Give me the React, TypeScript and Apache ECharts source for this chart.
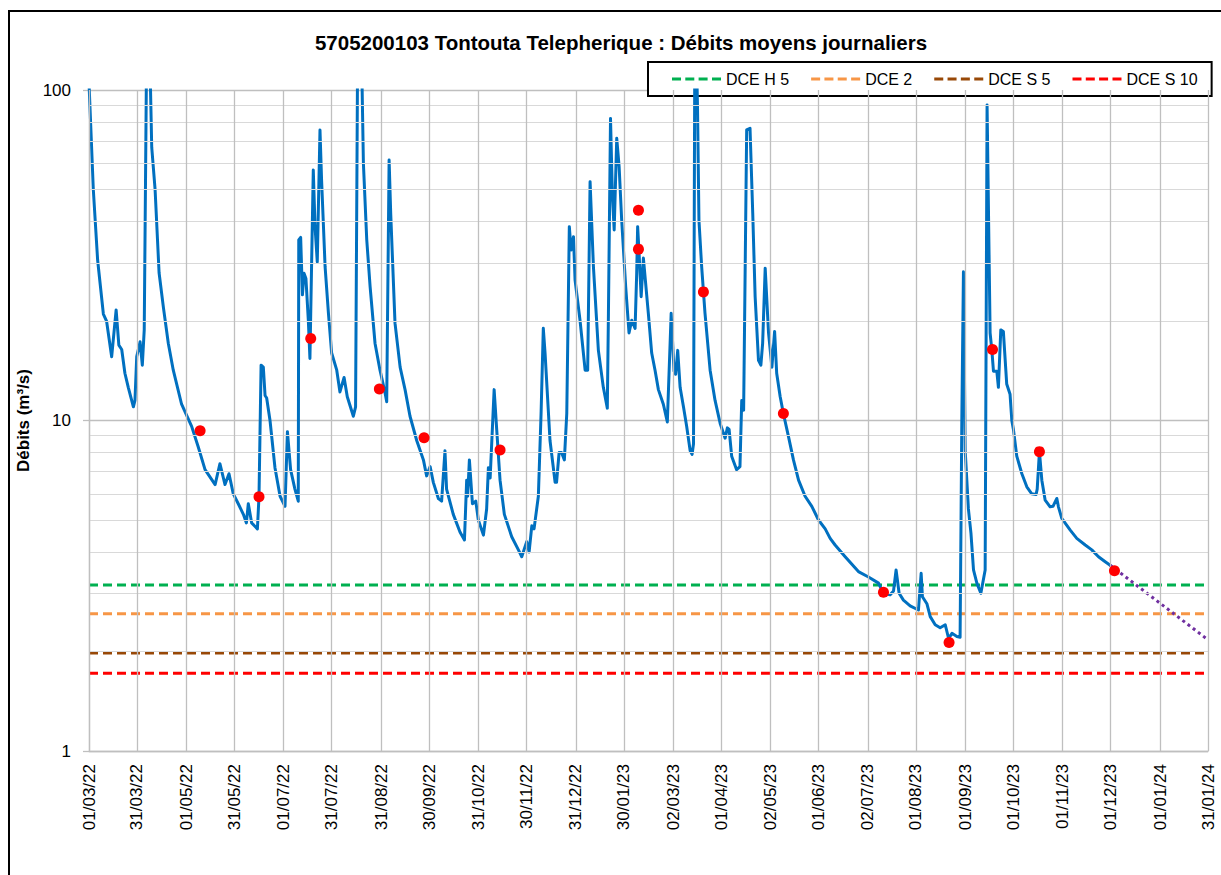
import React, { useEffect, useRef } from "react";
import * as echarts from "echarts";

// ---------- DATA ----------
const titleText = "5705200103 Tontouta Telepherique : Débits moyens journaliers";
const yAxisName = "Débits (m³/s)";

const xTickLabels = [
  "01/03/22", "31/03/22", "01/05/22", "31/05/22", "01/07/22", "31/07/22",
  "31/08/22", "30/09/22", "31/10/22", "30/11/22", "31/12/22", "30/01/23",
  "02/03/23", "01/04/23", "02/05/23", "01/06/23", "02/07/23", "01/08/23",
  "01/09/23", "01/10/23", "01/11/23", "01/12/23", "01/01/24", "31/01/24",
];

// daily mean flow, [days since 01/03/22, m3/s]
const flowSeries: [number, number][] = [
  [0, 105], [2.7, 50], [5.4, 30.6], [9, 21], [11, 20], [14.2, 15.6], [17, 21.6], [18.7, 16.9],
  [20.5, 16.4], [22.5, 13.9], [24.6, 12.6], [27.8, 11.0], [28.8, 11.5], [29.9, 15.6], [32, 17.3],
  [33.4, 14.7], [34.6, 18.8], [36.2, 150], [38.2, 120], [39.3, 67], [41.4, 50], [43.9, 28],
  [46.6, 22], [49.7, 17.1], [52.8, 14.2], [58, 11.2], [64.3, 9.6], [68.5, 8.3], [72.7, 7.1],
  [79, 6.4], [82, 7.4], [85.2, 6.4], [87.7, 6.9], [90.4, 6.0], [93.5, 5.6], [96.7, 5.2],
  [98.6, 4.9], [99.8, 5.6], [101.9, 4.9], [105.5, 4.7], [106.5, 5.9], [107.8, 14.7], [109.2, 14.5],
  [110.3, 11.9], [111.3, 11.7], [113.4, 10.0], [116.5, 7.2], [119.7, 5.9], [122.8, 5.5],
  [124.3, 9.25], [126.3, 7.1], [129, 6.2], [131.1, 5.7], [131.4, 35.2], [132.6, 35.8], [133.7, 24],
  [134.7, 27.9], [135.9, 26.9], [137.4, 20.1], [138.4, 15.4], [140.5, 57.3], [141.6, 38.6],
  [143, 30.2], [144.7, 75.7], [145.7, 53.4], [147.9, 29.2], [150, 21.1], [152, 16], [155.2, 14.2],
  [157.2, 12.2], [159.8, 13.5], [161.8, 11.8], [165.6, 10.3], [167, 11], [168.5, 200], [170.5, 150],
  [171.9, 60], [174, 35.2], [176.1, 25.4], [179.2, 17.1], [182.3, 14.2], [185.5, 12.1], [186.5, 11.4],
  [188, 61.4], [189, 42.4], [191.7, 19.7], [194.9, 14.5], [198, 12.4], [201.1, 10.3], [205.3, 8.7],
  [209.5, 7.6], [211.5, 6.8], [213.7, 7.25], [215.7, 6.5], [218.9, 5.8], [220.9, 5.7], [223, 8.1],
  [224, 6.2], [228.2, 5.2], [232.4, 4.6], [235.2, 4.35], [236.6, 6.6], [237.2, 5.9], [238.3, 7.6],
  [240.2, 5.6], [242.3, 5.7], [243.9, 5.0], [247.1, 4.5], [249.1, 5.4], [250.2, 7.2], [251.3, 6.7],
  [253.8, 12.4], [255.4, 9.4], [257.5, 6.6], [260.2, 5.2], [264.8, 4.45], [269, 4.06], [271.1, 3.87],
  [274.2, 4.3], [275.7, 4.0], [277.4, 4.8], [278.8, 4.7], [281.5, 5.9], [283.2, 10.5], [284.6, 19],
  [285.7, 16], [288.8, 8.7], [292, 6.5], [292.9, 6.5], [294.5, 8.0], [296, 8.0], [297.8, 7.6],
  [299.3, 10.5], [300.9, 38.6], [302, 32.8], [303.5, 36], [304.5, 26.6], [307.6, 20.1], [310.8, 14.2],
  [312.4, 14.2], [313.9, 52.8], [316, 29.2], [319.1, 16.3], [322.2, 12.6], [324.7, 10.9], [325.4, 21.1],
  [326.7, 82], [327.9, 47.6], [329, 37.7], [330.6, 71.4], [332.1, 58.6], [333.7, 40.4], [336.2, 25.4],
  [338.3, 18.4], [340, 20.1], [342.1, 19], [343.1, 27.9], [343.7, 38.6], [344.6, 32.1], [345.9, 23.7],
  [347.3, 31], [350.4, 21.1], [352.5, 16], [354.6, 14.2], [356.7, 12.4], [359.8, 11.2], [362.3, 9.9],
  [364.7, 21.1], [366.5, 14.1], [367.5, 13.8], [368.8, 16.3], [370.3, 12.6], [372.4, 11], [374.4, 9.6],
  [376.6, 8.1], [377.8, 7.9], [378.7, 8.5], [379.5, 130], [380.5, 130], [381.2, 89], [382.1, 40.4],
  [383.8, 29.2], [385.9, 21.1], [389.1, 14.2], [392.2, 11.5], [395.4, 9.8], [398.5, 8.84], [399.9, 9.5],
  [401, 9.4], [402.6, 7.8], [405.7, 7.1], [407.8, 7.25], [408.9, 11.5], [410.1, 10.75], [412, 75.7],
  [414.1, 76.6], [415.8, 42.4], [417.3, 23.7], [419.4, 15.2], [420.9, 14.7], [422, 17.1], [423.6, 28.9],
  [425.7, 18.4], [427.8, 14.5], [429.5, 18.6], [430.8, 13.9], [433, 11.8], [435, 10.5], [438.2, 8.94],
  [441.3, 7.6], [444.5, 6.6], [448.6, 5.9], [452.8, 5.5], [457, 5.0], [461.2, 4.7], [464.3, 4.4],
  [467.4, 4.2], [473.7, 3.87], [482, 3.49], [488.3, 3.36], [494.6, 3.22], [497.7, 3.0], [501.9, 2.97],
  [504, 3.05], [505.6, 3.53], [507.5, 3.0], [510.2, 2.86], [514.4, 2.75], [519.6, 2.67], [521.3, 3.45],
  [522.1, 2.93], [524.9, 2.79], [527, 2.55], [530.1, 2.41], [533.2, 2.36], [536.4, 2.41], [538.5, 2.19],
  [540.6, 2.27], [543.7, 2.22], [545.7, 2.21], [546.8, 10.3], [547.8, 28.2], [548.9, 8.1], [550.9, 5.4],
  [552.5, 4.56], [554.1, 3.53], [556.2, 3.22], [558.7, 3.0], [561.4, 3.53], [562.6, 90], [564.5, 18.4],
  [565.6, 16.3], [566.6, 14.1], [568.7, 14.1], [569.7, 12.6], [571.2, 18.8], [572.8, 18.6], [574.9, 12.9],
  [577, 12], [578.1, 10], [579.1, 9.4], [581.2, 7.8], [584.4, 6.9], [587.5, 6.3], [590.6, 6.0],
  [593.3, 5.97], [594, 6.2], [595.4, 8.05], [596.9, 6.6], [599, 5.74], [602.1, 5.48], [603.9, 5.5],
  [606.3, 5.81], [607.3, 5.48], [609.4, 5.06], [614.7, 4.66], [618.8, 4.4], [624.1, 4.2], [628.2, 4.06],
  [632.4, 3.87], [636.6, 3.74], [639.7, 3.65], [641.5, 3.55],
];

// forecast (dotted) recession
const forecastDays = [639.7, 701];
const forecastValues = [3.65, 2.17];

// measurement points (red dots)
const dotDays = [69.6, 106.5, 138.9, 181.9, 209.9, 257.5, 344.2, 344.2, 384.9, 435, 497.7, 538.8, 566, 595.4, 642.4];
const dotValues = [9.31, 5.88, 17.7, 12.45, 8.87, 8.14, 43.3, 33.0, 24.5, 10.5, 3.02, 2.13, 16.4, 8.05, 3.51];

// thresholds
const thresholdNames = ["DCE H 5", "DCE 2", "DCE S 5", "DCE S 10"];
const thresholdValues = [3.18, 2.6, 1.98, 1.72];
const thresholdColors = ["#00B050", "#F79646", "#984807", "#FF0000"];

// ---------- helpers ----------
const START = Date.UTC(2022, 2, 1);
const dayOf = (s: string) => {
  const [d, m, y] = s.split("/").map(Number);
  return Math.round((Date.UTC(2000 + y, m - 1, d) - START) / 86400000);
};
const xTickDays = xTickLabels.map(dayOf);
const X_MAX = xTickDays[xTickDays.length - 1];
const minorY = [2, 3, 4, 5, 6, 7, 8, 9].flatMap((v) => [v, v * 10]);

const FONT = '"Liberation Sans", Arial, sans-serif';
const DASH_ICON =
  "path://M0,0h9v3H0z M13.3,0h9v3h-9z M26.6,0h9v3h-9z M40,0h9v3h-9z";

export default function App() {
  const ref = useRef<HTMLDivElement>(null);
  useEffect(() => {
    if (!ref.current) return;
    const chart = echarts.init(ref.current, undefined, { renderer: "svg" });
    const labelOf = (v: number) => {
      const i = xTickDays.findIndex((d) => Math.abs(d - v) < 0.01);
      return i >= 0 ? xTickLabels[i] : "";
    };
    const gridMarkData: any[] = [
      ...minorY.map((v) => ({ yAxis: v, lineStyle: { color: "#D9D9D9", width: 1, type: "solid" } })),
      ...xTickDays.map((d) => ({ xAxis: d, lineStyle: { color: "#BFBFBF", width: 1.3, type: "solid" } })),
    ];
    const option: any = {
      animation: false,
      backgroundColor: "#ffffff",
      textStyle: { fontFamily: FONT },
      graphic: [
        {
          type: "rect",
          shape: { x: 9, y: 11, width: 1260, height: 920 },
          style: { fill: "none", stroke: "#000", lineWidth: 2 },
          silent: true,
          z: 100,
        },
        {
          type: "text",
          x: 621,
          y: 42,
          style: {
            text: titleText,
            font: `bold 20.5px ${FONT}`,
            fill: "#000",
            textAlign: "center",
            textVerticalAlign: "middle",
          },
        },
      ],
      legend: {
        data: thresholdNames,
        left: 648,
        top: 62,
        width: 560,
        orient: "horizontal",
        backgroundColor: "#fff",
        borderColor: "#000",
        borderWidth: 2,
        borderRadius: 0,
        padding: [9, 14, 9, 24],
        itemGap: 22,
        itemWidth: 49,
        itemHeight: 3,
        icon: DASH_ICON,
        textStyle: { fontSize: 16, color: "#000", fontFamily: FONT },
        selectedMode: false,
      },
      grid: { left: 89, right: 13, top: 90, bottom: 124, containLabel: false },
      xAxis: {
        type: "value",
        min: 0,
        max: X_MAX,
        axisLine: { show: true, onZero: false, lineStyle: { color: "#BFBFBF", width: 1.3 } },
        axisTick: { show: false, customValues: xTickDays },
        splitLine: { show: false },
        axisLabel: {
          customValues: xTickDays,
          rotate: 90,
          margin: 13,
          fontSize: 17,
          color: "#000",
          fontFamily: FONT,
          formatter: (v: number) => labelOf(v),
        },
      },
      yAxis: {
        type: "log",
        logBase: 10,
        min: 1,
        max: 100,
        name: yAxisName,
        nameLocation: "middle",
        nameRotate: 90,
        nameGap: 47,
        nameTextStyle: { fontSize: 17, fontWeight: "bold", color: "#000", fontFamily: FONT },
        axisLine: { show: true, lineStyle: { color: "#BFBFBF", width: 1.3 } },
        axisTick: { show: true, length: 6, lineStyle: { color: "#BFBFBF", width: 1.3 } },
        splitLine: { show: true, lineStyle: { color: "#BFBFBF", width: 1.3 } },
        minorTick: { show: false },
        axisLabel: { fontSize: 17, color: "#000", margin: 18, fontFamily: FONT },
      },
      series: [
        {
          name: "grid",
          type: "line",
          data: [[0, 1]],
          symbol: "none",
          lineStyle: { opacity: 0 },
          silent: true,
          z: 1,
          markLine: {
            silent: true,
            symbol: ["none", "none"],
            label: { show: false },
            animation: false,
            data: gridMarkData,
          },
        },
        ...thresholdNames.map((n, i) => ({
          name: n,
          type: "line",
          data: [
            [0, thresholdValues[i]],
            [X_MAX, thresholdValues[i]],
          ],
          symbol: "none",
          z: 3,
          itemStyle: { color: thresholdColors[i] },
          lineStyle: { color: thresholdColors[i], width: 3, type: [9, 5] },
        })),
        {
          name: "Débits",
          type: "line",
          data: flowSeries,
          symbol: "none",
          z: 4,
          lineStyle: { color: "#0070C0", width: 3, join: "round" },
          itemStyle: { color: "#0070C0" },
        },
        {
          name: "Prévision",
          type: "line",
          data: forecastDays.map((d, i) => [d, forecastValues[i]]),
          symbol: "none",
          z: 4,
          lineStyle: { color: "#7030A0", width: 3, type: [3, 3.5] },
          itemStyle: { color: "#7030A0" },
        },
        {
          name: "Mesures",
          type: "scatter",
          data: dotDays.map((d, i) => [d, dotValues[i]]),
          symbol: "circle",
          symbolSize: 11,
          z: 5,
          itemStyle: { color: "#FF0000", opacity: 1 },
        },
      ],
    };
    chart.setOption(option);
    return () => chart.dispose();
  }, []);
  return (
    <div
      ref={ref}
      style={{ position: "fixed", left: 0, top: 0, width: 1221, height: 875, background: "#fff" }}
    />
  );
}
